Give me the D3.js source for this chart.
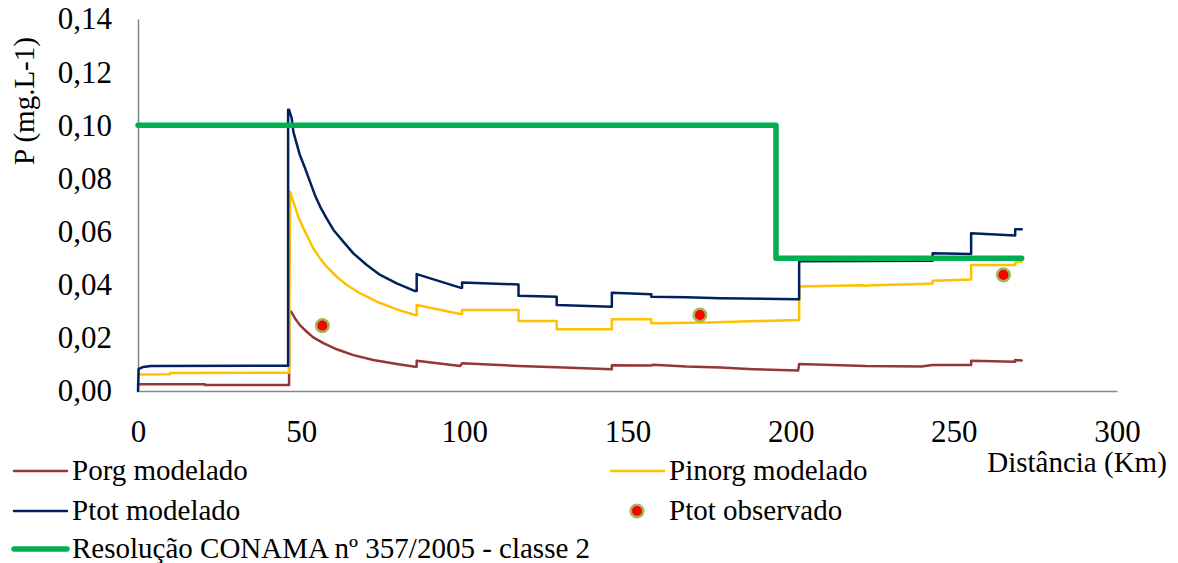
<!DOCTYPE html>
<html>
<head>
<meta charset="utf-8">
<script src="https://cdn.jsdelivr.net/npm/d3@7"></script>
<style>
  html, body { margin: 0; padding: 0; background: #fff; }
  svg { display: block; }
</style>
</head>
<body>
<svg id="chart" width="1178" height="563"></svg>
<script>
// Phosphorus along the river: [distance (km), concentration (mg/L)]
const porgModelado = [
  [0, 0.0025], [20.5, 0.0025], [20.5, 0.0023], [46.3, 0.0023], [46.3, 0.0299],
  [46.9, 0.0299], [48.1, 0.0274], [49.6, 0.0248], [51.7, 0.0223], [53.7, 0.0202],
  [56.8, 0.0180], [60.9, 0.0157], [66.0, 0.0135], [72.1, 0.0117], [79.3, 0.0102],
  [84.9, 0.0091], [85.4, 0.0091], [85.4, 0.0114], [98.7, 0.0094], [99.3, 0.0104],
  [116.6, 0.0094], [128.3, 0.0089], [145.2, 0.0082], [145.2, 0.0097], [157.3, 0.0096],
  [157.9, 0.0099], [168.0, 0.0092], [178.4, 0.0088], [188.6, 0.0082], [202.3, 0.0077],
  [202.6, 0.0102], [223.0, 0.0094], [240.0, 0.0092], [243.5, 0.0098], [255.3, 0.0098],
  [255.3, 0.0114], [268.8, 0.0110], [268.8, 0.0117], [270.8, 0.0115]
];

const pinorgModelado = [
  [0, 0.0062], [9.8, 0.0063], [9.8, 0.0068], [46.3, 0.0069], [46.6, 0.0750],
  [47.1, 0.0731], [48.1, 0.0694], [49.1, 0.0656], [50.7, 0.0612], [52.2, 0.0575],
  [53.7, 0.0537], [55.8, 0.0499], [57.8, 0.0468], [60.9, 0.0430], [64.0, 0.0399],
  [68.0, 0.0368], [73.2, 0.0336], [79.3, 0.0307], [84.9, 0.0286], [85.4, 0.0285],
  [85.4, 0.0324], [98.7, 0.0290], [99.3, 0.0290], [99.3, 0.0305], [116.6, 0.0305],
  [116.6, 0.0263], [128.3, 0.0263], [128.3, 0.0232], [145.2, 0.0232], [145.2, 0.0270],
  [157.3, 0.0270], [157.3, 0.0255], [175.0, 0.0258], [190.0, 0.0263], [202.6, 0.0267],
  [202.6, 0.0393], [222.0, 0.0398], [223.0, 0.0396], [225.0, 0.0398], [240.0, 0.0403],
  [243.5, 0.0405], [243.5, 0.0415], [255.3, 0.0420], [255.3, 0.0474], [268.8, 0.0474],
  [268.8, 0.0483], [270.8, 0.0487]
];

const ptotModelado = [
  [0, 0.0000], [0.2, 0.0083], [1.5, 0.0090], [4.0, 0.0094], [46.0, 0.0095],
  [46.0, 0.1058], [46.3, 0.1058], [47.1, 0.1026], [47.6, 0.0976], [48.6, 0.0932],
  [49.6, 0.0888], [51.2, 0.0838], [52.7, 0.0788], [54.2, 0.0738], [55.8, 0.0694],
  [57.8, 0.0650], [59.9, 0.0606], [62.9, 0.0562], [66.0, 0.0518], [70.1, 0.0474],
  [74.2, 0.0437], [79.3, 0.0405], [84.9, 0.0376], [85.4, 0.0376], [85.4, 0.0440],
  [98.7, 0.0389], [99.3, 0.0389], [99.3, 0.0408], [116.6, 0.0401], [116.6, 0.0358],
  [128.3, 0.0355], [128.3, 0.0324], [145.2, 0.0317], [145.2, 0.0370], [157.3, 0.0364],
  [157.3, 0.0355], [168.0, 0.0353], [178.4, 0.0349], [202.3, 0.0345], [202.6, 0.0345],
  [202.6, 0.0488], [243.5, 0.0490], [243.5, 0.0518], [255.3, 0.0516], [255.3, 0.0594],
  [268.8, 0.0585], [268.8, 0.0609], [270.8, 0.0609]
];

const ptotObservado = [[56.5, 0.0246], [172.2, 0.0286], [265.2, 0.0437]];

// CONAMA 357/2005, class 2 limit
const conamaLimite = [[0, 0.10], [195.5, 0.10], [195.5, 0.05], [270.8, 0.05]];

const xTicks = [0, 50, 100, 150, 200, 250, 300];
const yTicks = [0, 0.02, 0.04, 0.06, 0.08, 0.10, 0.12, 0.14];
const yTickLabels = ["0,00", "0,02", "0,04", "0,06", "0,08", "0,10", "0,12", "0,14"];

const FONT = '"Liberation Serif", "Times New Roman", Times, serif';

const colors = {
  porg: "#953735",
  pinorg: "#FFC000",
  ptot: "#002060",
  conama: "#00B050",
  obsFill: "#FF0000",
  obsStroke: "#9BBB59",
  axis: "#868686"
};

const svg = d3.select("#chart").style("font-family", FONT);

const x = d3.scaleLinear().domain([0, 300]).range([138, 1117]);
const y = d3.scaleLinear().domain([0, 0.14]).range([391, 19]);

// Axes
const yAxis = d3.axisLeft(y)
  .tickValues(yTicks)
  .tickSize(0)
  .tickPadding(26)
  .tickFormat((d, i) => yTickLabels[i]);

const xAxis = d3.axisBottom(x)
  .tickValues(xTicks)
  .tickSize(0)
  .tickPadding(29)
  .tickFormat(d3.format("d"));

const gy = svg.append("g").attr("transform", "translate(138,0)").call(yAxis);
const gx = svg.append("g").attr("transform", "translate(0,391)").call(xAxis);

[gx, gy].forEach(g => {
  g.attr("font-family", null).attr("font-size", null);
  g.select(".domain").attr("stroke", colors.axis).attr("stroke-width", 1.5);
  g.selectAll(".tick text")
    .attr("fill", "#000")
    .style("font-size", "31px")
    .style("font-family", FONT);
});

// Series lines
const line = d3.line().x(d => x(d[0])).y(d => y(d[1]));

function drawLine(data, color, width) {
  svg.append("path")
    .datum(data)
    .attr("fill", "none")
    .attr("stroke", color)
    .attr("stroke-width", width)
    .attr("stroke-linejoin", "round")
    .attr("stroke-linecap", "round")
    .attr("d", line);
}

drawLine(porgModelado, colors.porg, 2.5);
drawLine(pinorgModelado, colors.pinorg, 2.5);
drawLine(ptotModelado, colors.ptot, 2.5);
drawLine(conamaLimite, colors.conama, 5.5);

// Observed total phosphorus
svg.append("g").selectAll("circle")
  .data(ptotObservado)
  .join("circle")
  .attr("cx", d => x(d[0]))
  .attr("cy", d => y(d[1]))
  .attr("r", 6.3)
  .attr("fill", colors.obsFill)
  .attr("stroke", colors.obsStroke)
  .attr("stroke-width", 2.5);

// Axis titles
svg.append("text")
  .attr("transform", "translate(33.5,101) rotate(-90)")
  .attr("text-anchor", "middle")
  .style("font-family", FONT)
  .style("font-size", "29px")
  .text("P (mg.L-1)");

svg.append("text")
  .attr("x", 1077)
  .attr("y", 472)
  .attr("text-anchor", "middle")
  .style("font-family", FONT)
  .style("font-size", "29px")
  .text("Distância (Km)");

// Legend
const legendItems = [
  { label: "Porg modelado", type: "line", color: colors.porg, width: 2.5, x: 14, y: 471 },
  { label: "Pinorg modelado", type: "line", color: colors.pinorg, width: 2.5, x: 611, y: 471 },
  { label: "Ptot modelado", type: "line", color: colors.ptot, width: 2.5, x: 14, y: 511 },
  { label: "Ptot observado", type: "dot", x: 611, y: 511 },
  { label: "Resolução CONAMA nº 357/2005 - classe 2", type: "line", color: colors.conama, width: 5.5, x: 14, y: 549 }
];

const lg = svg.append("g");
legendItems.forEach(item => {
  if (item.type === "line") {
    lg.append("line")
      .attr("x1", item.x).attr("x2", item.x + 53)
      .attr("y1", item.y).attr("y2", item.y)
      .attr("stroke", item.color)
      .attr("stroke-width", item.width)
      .attr("stroke-linecap", "round");
  } else {
    lg.append("circle")
      .attr("cx", item.x + 26).attr("cy", item.y)
      .attr("r", 6.3)
      .attr("fill", colors.obsFill)
      .attr("stroke", colors.obsStroke)
      .attr("stroke-width", 2.5);
  }
  lg.append("text")
    .attr("x", item.x + 58)
    .attr("y", item.y + 9)
    .style("font-family", FONT)
    .style("font-size", "29px")
    .text(item.label);
});
</script>
</body>
</html>
